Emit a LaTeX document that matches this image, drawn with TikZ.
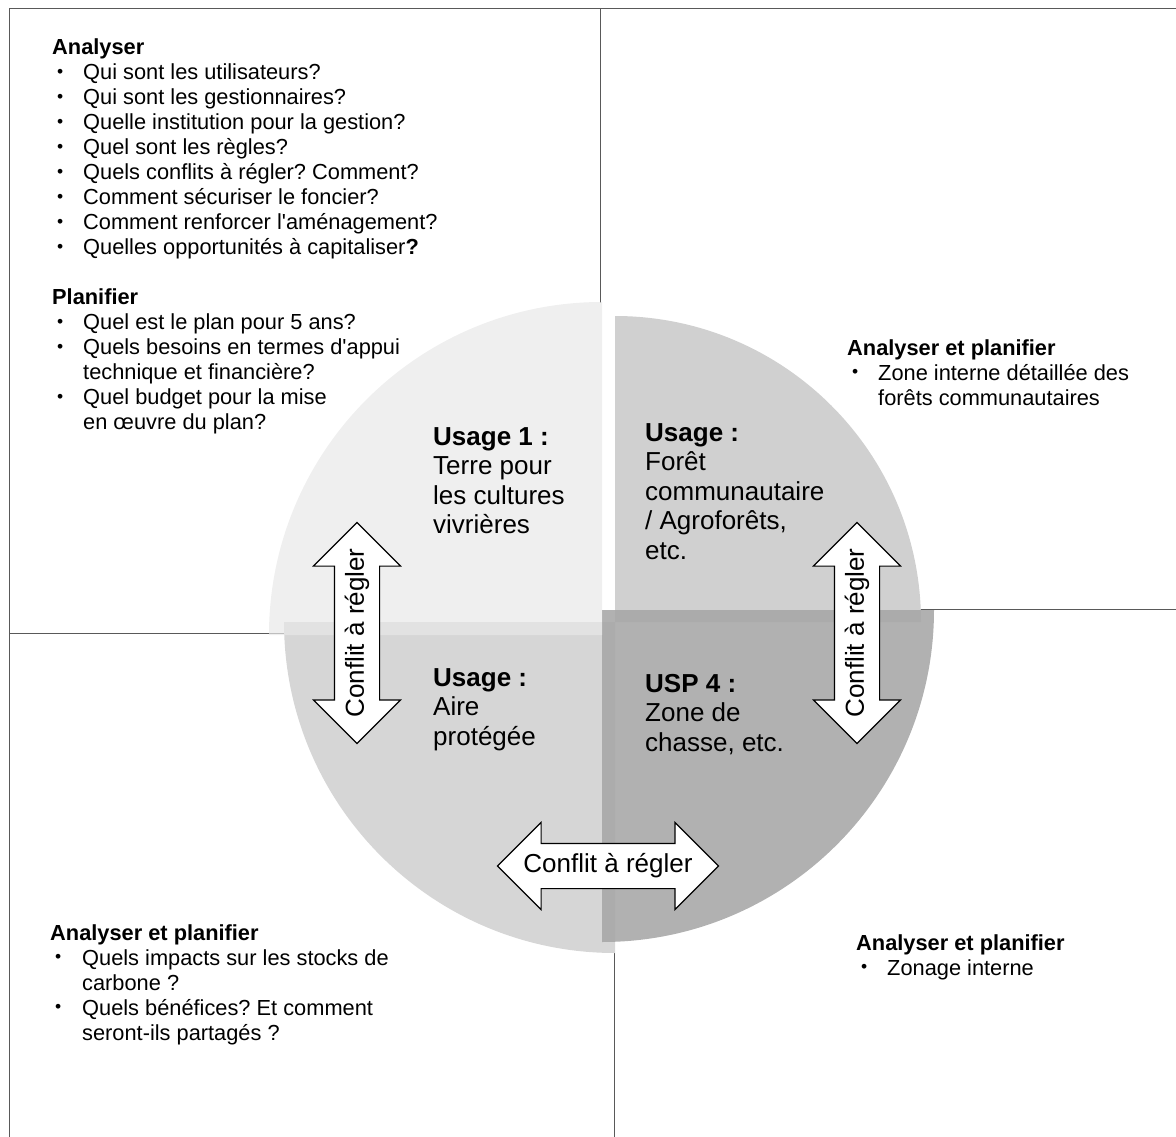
\documentclass[tikz,border=0pt]{standalone}
\usepackage{fontspec}
\setmainfont{Liberation Sans}[Ligatures=TeXOff]
\usetikzlibrary{shapes.arrows}

\definecolor{quartA}{gray}{0.91}
\definecolor{quartB}{gray}{0.816}
\definecolor{quartC}{gray}{0.839}
\definecolor{quartD}{gray}{0.659}
\newcommand{\puce}{\hspace{5pt}\raisebox{2.5pt}{\fontsize{17.5}{17.5}\selectfont\textbullet}}
\frenchspacing

\begin{document}
\begin{tikzpicture}[x=1pt, y=1pt,
  cadre/.style={draw=black!65, line width=1pt},
  bloc/.style={anchor=base west, inner sep=0pt, font=\fontsize{21.8}{25}\selectfont},
  usage/.style={anchor=base west, inner sep=0pt, font=\fontsize{26}{29.5}\selectfont},
  conflit/.style={double arrow, draw=black, fill=white, line width=1.1pt,
    double arrow head extend=21pt, double arrow tip angle=90,
    inner xsep=0pt, inner ysep=22pt, text height=0pt, text depth=0pt,
    minimum height=221pt},
  etiquette/.style={inner sep=0pt, font=\fontsize{26}{29.5}\selectfont}]
  \useasboundingbox (0,0) rectangle (1176,-1137);
  % cadre et separations
  \draw[cadre] (9,-1137) -- (9,-9) -- (1176,-9);
  \draw[cadre] (600,-9) -- (600,-303);
  \draw[cadre] (9,-633) -- (284,-633);
  \draw[cadre] (918,-609) -- (1176,-609);
  \draw[cadre] (614,-942) -- (614,-1137);
  % quarts du disque
  \fill[quartB] (615,-622) -- (615,-316) arc[start angle=90, end angle=0, radius=306] -- cycle;
  \fill[quartC] (615,-622) -- (284,-622) arc[start angle=180, end angle=270, radius=331] -- cycle;
  \fill[quartD, fill opacity=0.9] (602,-610) -- (934,-610) arc[start angle=0, end angle=-90, radius=332] -- cycle;
  \fill[quartA, fill opacity=0.7] (602,-635) -- (269,-635) arc[start angle=180, end angle=90, radius=333] -- cycle;
  % fleches de conflit
  \node[conflit, rotate=90] (conflitg) at (357,-633) {};
  \node[conflit, rotate=90] (conflitd) at (857,-633) {};
  \node[conflit] (conflitb) at (608,-866) {};
  \node[etiquette, rotate=90] (txtg) at (conflitg) {Conflit à régler};
  \node[etiquette, rotate=90] (txtd) at (conflitd) {Conflit à régler};
  \node[etiquette] (txtb) at (conflitb) {Conflit à régler};
  % usages
  \node[usage] (usage1) at (433,-445) {\begin{tabular}[t]{@{}l@{}}
    \textbf{Usage 1 :}\\ Terre pour\\ les cultures\\ vivrières\end{tabular}};
  \node[usage] (usage2) at (645,-441) {\begin{tabular}[t]{@{}l@{}}
    \textbf{Usage :}\\ Forêt\\ communautaire\\ / Agroforêts,\\ etc.\end{tabular}};
  \node[usage] (usage3) at (433,-686) {\begin{tabular}[t]{@{}l@{}}
    \textbf{Usage :}\\ Aire\\ protégée\end{tabular}};
  \node[usage] (usp4) at (645,-692) {\begin{tabular}[t]{@{}l@{}}
    \textbf{USP 4 :}\\ Zone de\\ chasse, etc.\end{tabular}};
  % questions
  \node[bloc] (gauchehaut) at (52,-55) {\begin{tabular}[t]{@{}p{31pt}@{}l@{}}
    \multicolumn{2}{@{}l@{}}{\textbf{Analyser}}\\
    \puce & Qui sont les utilisateurs?\\
    \puce & Qui sont les gestionnaires?\\
    \puce & Quelle institution pour la gestion?\\
    \puce & Quel sont les règles?\\
    \puce & Quels conflits à régler? Comment?\\
    \puce & Comment sécuriser le foncier?\\
    \puce & Comment renforcer l'aménagement?\\
    \puce & Quelles opportunités à capitaliser\textbf{?}\\
    & \\
    \multicolumn{2}{@{}l@{}}{\textbf{Planifier}}\\
    \puce & Quel est le plan pour 5 ans?\\
    \puce & Quels besoins en termes d'appui\\
    & technique et financière?\\
    \puce & Quel budget pour la mise\\
    & en œuvre du plan?
  \end{tabular}};
  \node[bloc] (droitehaut) at (847,-355) {\begin{tabular}[t]{@{}p{31pt}@{}l@{}}
    \multicolumn{2}{@{}l@{}}{\textbf{Analyser et planifier}}\\
    \puce & Zone interne détaillée des\\
    & forêts communautaires
  \end{tabular}};
  \node[bloc] (gauchebas) at (50,-940) {\begin{tabular}[t]{@{}p{32pt}@{}l@{}}
    \multicolumn{2}{@{}l@{}}{\textbf{Analyser et planifier}}\\
    \puce & Quels impacts sur les stocks de\\
    & carbone ?\\
    \puce & Quels bénéfices? Et comment\\
    & seront-ils partagés ?
  \end{tabular}};
  \node[bloc] (droitebas) at (856,-950) {\begin{tabular}[t]{@{}p{31pt}@{}l@{}}
    \multicolumn{2}{@{}l@{}}{\textbf{Analyser et planifier}}\\
    \puce & Zonage interne
  \end{tabular}};
\end{tikzpicture}
\end{document}
